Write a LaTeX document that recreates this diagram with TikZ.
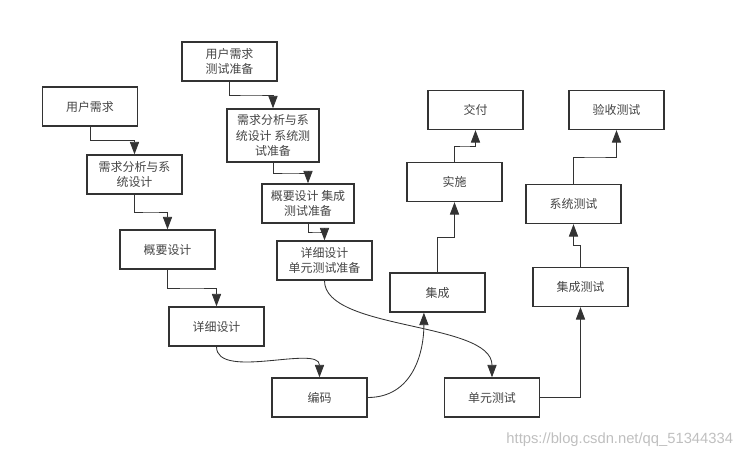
\documentclass[tikz,border=0pt]{standalone}
\usepackage{fontspec}
\setmainfont{Liberation Sans}
\newfontfamily\cjk{Noto Sans CJK SC}
\usetikzlibrary{arrows.meta,calc}
\definecolor{linegray}{HTML}{333333}
\definecolor{textgray}{HTML}{444444}
\begin{document}
\begin{tikzpicture}[x=0.025cm, y=-0.025cm,
  every node/.style={font=\cjk\fontsize{8.5}{11}\selectfont, text=textgray},
  stage/.style={draw=linegray, line width=1pt, fill=white, minimum width=2.375cm, minimum height=0.975cm, align=center, inner sep=1pt},
  conn/.style={draw=linegray, line width=0.6pt, -{Triangle[length=3.1mm,width=2.3mm]}}]
\useasboundingbox (0,0) rectangle (746,460);
% development side
\node[stage] (req) at (90,106.5) {用户需求};
\node[stage] (ana) at (134.5,174.5) {需求分析与系\\统设计};
\node[stage] (sum) at (167.5,249.5) {概要设计};
\node[stage] (det) at (216.5,326.5) {详细设计};
\node[stage] (code) at (319.5,397.5) {编码};
% test preparation side
\node[stage] (treq) at (229.5,61.5) {用户需求\\测试准备};
\node[stage, minimum width=2.3cm, minimum height=1.325cm] (tana) at (273,135.5) {需求分析与系\\统设计 系统测\\试准备};
\node[stage, minimum width=2.3cm] (tsum) at (308,203.5) {概要设计 集成\\测试准备};
\node[stage] (tdet) at (324.5,260.5) {详细设计\\单元测试准备};
% integration / test side
\node[stage] (int) at (437.5,292.5) {集成};
\node[stage] (impl) at (454.5,182) {实施};
\node[stage] (dlv) at (475.5,110) {交付};
\node[stage] (unit) at (492,397.5) {单元测试};
\node[stage] (itest) at (580.5,287) {集成测试};
\node[stage] (stest) at (573.5,204) {系统测试};
\node[stage] (acc) at (616.5,110) {验收测试};
% elbows downwards
\draw[conn] (req.south) |- ($(req.south)!0.5!(ana.north)$) -| (ana.north);
\draw[conn] (ana.south) |- ($(ana.south)!0.5!(sum.north)$) -| (sum.north);
\draw[conn] (sum.south) |- ($(sum.south)!0.5!(det.north)$) -| (det.north);
\draw[conn] (treq.south) |- ($(treq.south)!0.5!(tana.north)$) -| (tana.north);
\draw[conn] (tana.south) |- ($(tana.south)!0.5!(tsum.north)$) -| (tsum.north);
\draw[conn] (tsum.south) |- ($(tsum.south)!0.5!(tdet.north)$) -| (tdet.north);
% elbows upwards
\draw[conn] (int.north) |- ($(int.north)!0.5!(impl.south)$) -| (impl.south);
\draw[conn] (impl.north) |- ($(impl.north)!0.5!(dlv.south)$) -| (dlv.south);
\draw[conn] (unit.east) -| (itest.south);
\draw[conn] (itest.north) |- ($(itest.north)!0.5!(stest.south)$) -| (stest.south);
\draw[conn] (stest.north) |- ($(stest.north)!0.5!(acc.south)$) -| (acc.south);
% curved links
\draw[conn] (det.south) .. controls +(0,34) and +(0,-33) .. (code.north);
\draw[conn] (tdet.south) .. controls +(0,50) and +(0,-56) .. (unit.north);
\coordinate (intin) at ([xshift=-0.34cm]int.south);
\draw[conn] (code.east) .. controls +(45,0) and +(0,40) .. (intin);
% watermark
\node[font=\fontsize{10.5}{12}\selectfont, text=black!25, anchor=east] (wm) at (738,440) {https://blog.csdn.net/qq\_51344334};
\end{tikzpicture}
\end{document}
